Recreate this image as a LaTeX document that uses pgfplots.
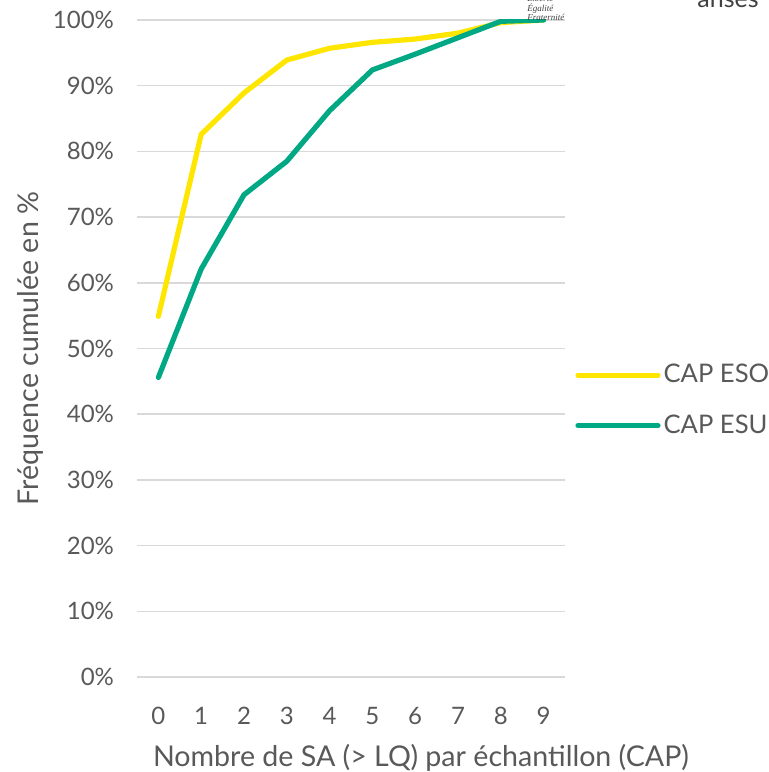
\documentclass[border=0pt]{standalone}
\usepackage{pgfplots}
\pgfplotsset{compat=1.18}
\usepackage{fontspec}
\setmainfont{Lato}
\newfontfamily\logofont{Liberation Serif}

\definecolor{txtgrey}{HTML}{595959}
\definecolor{gridgrey}{HTML}{D9D9D9}
\definecolor{esoyellow}{HTML}{FFE600}
\definecolor{esugreen}{HTML}{00A884}

\pgfplotstableread{
n  eso   esu
0  54.9  45.6
1  82.6  62.1
2  88.9  73.4
3  93.9  78.5
4  95.7  86.2
5  96.6  92.4
6  97.1  94.8
7  98.0  97.3
8  99.6  99.8
9  100   100
}\cumdata

\begin{document}
\begin{tikzpicture}
\clip (-68.5pt,-47.5pt) rectangle (316pt,338.5pt);
\begin{axis}[
  scale only axis,
  width=214pt, height=328.5pt,
  xmin=-0.5, xmax=9.5,
  ymin=0, ymax=100,
  xtick={0,...,9},
  ytick={0,10,...,100},
  yticklabel={\pgfmathprintnumber{\tick}\%},
  /pgf/number format/assume math mode=true,
  axis line style={draw=none},
  major tick length=0pt,
  ymajorgrids,
  grid style={gridgrey, line width=0.8pt},
  tick label style={font=\fontsize{12}{14}\selectfont, text=txtgrey},
  xticklabel style={yshift=-11.5pt},
  yticklabel style={xshift=-8pt},
  label style={font=\fontsize{14.3}{17}\selectfont, text=txtgrey},
  xlabel={Nombre de SA (> LQ) par échantillon (CAP)},
  ylabel={Fréquence cumulée en \%},
  xlabel style={at={(axis description cs:0.5,0)}, anchor=center, xshift=35pt, yshift=-40.5pt},
  ylabel style={at={(axis description cs:0,0.5)}, anchor=center, yshift=53.5pt},
  legend style={
    at={(axis description cs:1,0.421)}, anchor=west, xshift=5pt,
    draw=none, fill=none,
    font=\fontsize{12.8}{15}\selectfont, text=txtgrey,
    row sep=11.5pt, inner sep=0pt,
    nodes={inner sep=1.5pt},
  },
  legend cell align=left,
  legend image code/.code={\draw[#1] (0pt,0pt) -- (40pt,0pt);},
  every axis plot/.append style={line width=2.6pt, line join=round, line cap=round},
]
\addplot[esoyellow] table[x=n, y=eso] {\cumdata};
\addlegendentry{CAP ESO}
\addplot[esugreen] table[x=n, y=esu] {\cumdata};
\addlegendentry{CAP ESU}
\end{axis}
% header fragments at the top edge
\node[anchor=base west, inner sep=0pt, font=\fontsize{12.5}{14}\selectfont, text=black!75] at (280pt,334.5pt) {anses};
\node[anchor=base west, inner sep=0pt, font=\logofont\itshape\fontsize{4.5}{5}\selectfont, text=black!75] at (195pt,337.5pt) {Liberté};
\node[anchor=base west, inner sep=0pt, font=\logofont\itshape\fontsize{4.5}{5}\selectfont, text=black!75] at (195pt,332.5pt) {Égalité};
\node[anchor=base west, inner sep=0pt, font=\logofont\itshape\fontsize{4.5}{5}\selectfont, text=black!75] at (195pt,328pt) {Fraternité};
\end{tikzpicture}
\end{document}
